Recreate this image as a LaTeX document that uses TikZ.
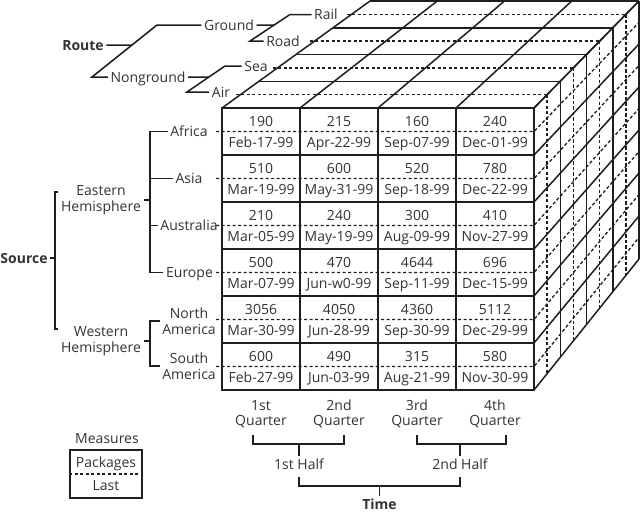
\documentclass[tikz,border=0pt]{standalone}
\usepackage{fontspec}
\setmainfont{Open Sans}
\usetikzlibrary{calc}
\definecolor{inkGray}{RGB}{51,51,51}
\definecolor{lineBlack}{RGB}{30,30,30}

\begin{document}
\begin{tikzpicture}[x=1pt,y=-1pt,
  every node/.style={font=\fontsize{14}{15.5}\selectfont,text=inkGray},
  lbl/.style={inner sep=2.5pt,text height=10pt,text depth=0pt},
  boldlbl/.style={lbl,font=\fontsize{14}{15.5}\selectfont\bfseries},
  lbl2/.style={inner sep=2.5pt,align=center},
  celltext/.style={inner sep=0pt,text height=10pt,text depth=0pt},
  edge/.style={line width=1.5pt,draw=lineBlack},
  midline/.style={line width=1.3pt,draw=lineBlack,dash pattern=on 3.2pt off 2.3pt},
  tree/.style={line width=1.5pt,draw=lineBlack}]
\useasboundingbox (0,0) rectangle (640,512);

% cube
\draw[edge] (222,108) rectangle (534,390);
\foreach \i in {1,2,3} \draw[edge] (222+78*\i,108) -- (222+78*\i,390);
\foreach \j in {1,...,5} \draw[edge] (222,108+47*\j) -- (534,108+47*\j);
\foreach \k in {1,...,4} \draw[edge] (222+37*\k,108-26.75*\k) -- (534+26.25*\k,108-26.75*\k);
\foreach \i in {0,...,4} \draw[edge] (222+78*\i,108) -- (370+67.25*\i,1);
\foreach \k in {1,...,4} \draw[edge] (534+26.25*\k,108-26.75*\k) -- (534+26.25*\k,390-32.75*\k);
\foreach \j in {0,...,6} \draw[edge] (534,108+47*\j) -- (639,1+43*\j);
\foreach \j in {0,...,5} \draw[midline] (216,131.5+47*\j) -- (534,131.5+47*\j) -- (639,22.5+43*\j);
\foreach \k in {0.5,1.5,2.5,3.5} {
  \draw[midline] (217+37*\k,108-26.75*\k) -- (534+26.25*\k,108-26.75*\k);
  \draw[midline] (534+26.25*\k,108-26.75*\k) -- (534+26.25*\k,390-32.75*\k);
}
\foreach \i/\j/\num/\day in {
  0/0/190/Feb-17-99, 1/0/215/Apr-22-99, 2/0/160/Sep-07-99, 3/0/240/Dec-01-99,
  0/1/510/Mar-19-99, 1/1/600/May-31-99, 2/1/520/Sep-18-99, 3/1/780/Dec-22-99,
  0/2/210/Mar-05-99, 1/2/240/May-19-99, 2/2/300/Aug-09-99, 3/2/410/Nov-27-99,
  0/3/500/Mar-07-99, 1/3/470/Jun-w0-99, 2/3/4644/Sep-11-99, 3/3/696/Dec-15-99,
  0/4/3056/Mar-30-99, 1/4/4050/Jun-28-99, 2/4/4360/Sep-30-99, 3/4/5112/Dec-29-99,
  0/5/600/Feb-27-99, 1/5/490/Jun-03-99, 2/5/315/Aug-21-99, 3/5/580/Nov-30-99}{
  \node[celltext] (n-\j-\i) at (261+78*\i,121.5+47*\j) {\num};
  \node[celltext] (d-\j-\i) at (261+78*\i,142.5+47*\j) {\day};
}

% route
\node[boldlbl] (route) at (83,45) {Route};
\node[lbl] (ground) at (229,25) {Ground};
\node[lbl] (nonground) at (148,77) {Nonground};
\node[lbl] (rail) at (326,14.5) {Rail};
\node[lbl] (road) at (283,41) {Road};
\node[lbl] (sea) at (256,66) {Sea};
\node[lbl] (air) at (221,92) {Air};
\coordinate (rtop) at (157,25);
\coordinate (rbot) at (92,77);
\coordinate (gtop) at (290,14.5);
\coordinate (gbot) at (250,41);
\coordinate (ntop) at (225,66);
\coordinate (nbot) at (187,92);
\draw[tree] (ground.west) -- (rtop) -- (rbot) -- (nonground.west);
\draw[tree] (route.east) -- ($(rbot)!0.615!(rtop)$);
\draw[tree] (rail.west) -- (gtop) -- (gbot) -- (road.west);
\draw[tree] (ground.east) -- ($(gbot)!0.6!(gtop)$);
\draw[tree] (sea.west) -- (ntop) -- (nbot) -- (air.west);
\draw[tree] (nonground.east) -- ($(nbot)!0.577!(ntop)$);

% source
\node[boldlbl] (source) at (24,258) {Source};
\node[lbl2] (eh) at (101,200) {Eastern\\Hemisphere};
\node[lbl2] (wh) at (101,341) {Western\\Hemisphere};
\node[lbl] (africa) at (189,131.5) {Africa};
\node[lbl] (asia) at (189,178.5) {Asia};
\node[lbl] (australia) at (189,225.5) {Australia};
\node[lbl] (europe) at (189.5,272.5) {Europe};
\node[lbl2] (namer) at (189,321) {North\\America};
\node[lbl2] (samer) at (189,366) {South\\America};
\coordinate (sb-top) at (55,192);
\coordinate (sb-bot) at (55,329);
\coordinate (eb) at (150,0);
\draw[tree] (eh.west |- sb-top) -- (sb-top) -- (sb-bot) -- (wh.west |- sb-bot);
\draw[tree] (source.east) -- (source.east -| sb-top);
\draw[tree] (africa.west) -- (africa.west -| eb) -- (europe.west -| eb) -- (europe.west);
\draw[tree] (asia.west) -- (asia.west -| eb);
\draw[tree] (australia.west) -- (australia.west -| eb);
\draw[tree] (eh.east) -- (eh.east -| eb);
\draw[tree] (namer.west) -- (namer.west -| eb) -- (samer.west -| eb) -- (samer.west);
\draw[tree] (wh.east) -- (wh.east -| eb);

% time
\foreach \q/\ord in {0/1st,1/2nd,2/3rd,3/4th}
  \node[lbl2] (q\q) at (261+78*\q,414) {\ord\\Quarter};
\node[lbl] (h1) at (299,464) {1st Half};
\node[lbl] (h2) at (460,464) {2nd Half};
\node[boldlbl] (time) at (379.5,504) {Time};
\coordinate (hb1) at (253,444);
\coordinate (hb2) at (344,444);
\coordinate (hb3) at (417,444);
\coordinate (hb4) at (506,444);
\coordinate (tb1) at (299,486);
\coordinate (tb2) at (460,486);
\draw[tree] ($(hb1)+(0,-9)$) -- (hb1) -- (hb2) -- ($(hb2)+(0,-9)$);
\draw[tree] ($(hb3)+(0,-9)$) -- (hb3) -- (hb4) -- ($(hb4)+(0,-9)$);
\draw[tree] ($(tb1)+(0,-9)$) -- (tb1) -- (tb2) -- ($(tb2)+(0,-9)$);
\draw[tree] (h1.north) -- (h1.north |- hb1);
\draw[tree] (h2.north) -- (h2.north |- hb3);
\draw[tree] (time.north) -- (time.north |- tb1);

% measures
\node[lbl] (measures) at (107,438) {Measures};
\node[draw=lineBlack,line width=1.5pt,minimum width=72pt,minimum height=48pt,inner sep=0pt] (legend) at (106,474) {};
\draw[midline] (legend.west) -- (legend.east);
\node[lbl] (packages) at (106,462) {Packages};
\node[lbl] (last) at (106,485.5) {Last};
\end{tikzpicture}
\end{document}
